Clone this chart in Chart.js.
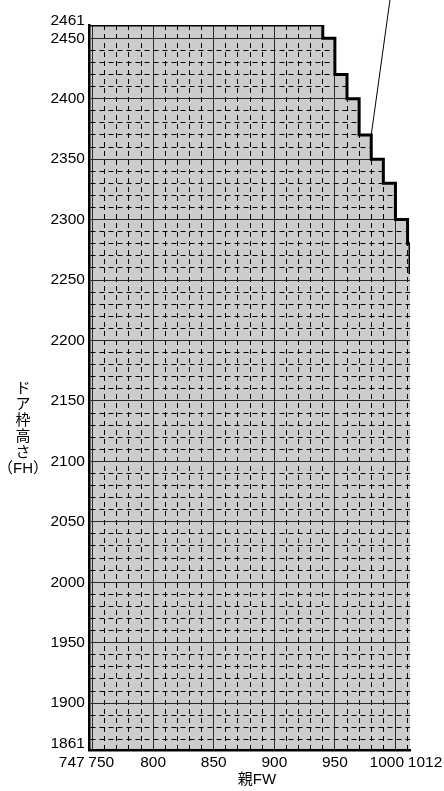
<!DOCTYPE html>
<html><head><meta charset="utf-8">
<script src="https://cdn.jsdelivr.net/npm/chart.js@4"></script>
<style>html,body{margin:0;padding:0;background:#fff}#wrap{position:relative;width:444px;height:791px}</style>
</head><body><div id="wrap"><canvas id="c"></canvas></div>
<script>
// ---- data ----
const xTickLabels = [747, 750, 800, 850, 900, 950, 1000, 1012];
const yTickLabels = [1861, 1900, 1950, 2000, 2050, 2100, 2150, 2200, 2250, 2300, 2350, 2400, 2450, 2461];
const stepFW = [747, 940, 950, 960, 970, 980, 990, 1000, 1010, 1012, 1012];
const stepFH = [2461, 2450, 2420, 2400, 2370, 2350, 2330, 2300, 2280, 2280, 2255];
const calloutFW = [980, 996.6];
const calloutFH = [2370, 2490];
const xTitle = '親FW';
const yTitleLines = ['ド', 'ア', '枠', '高', 'さ', '（FH）'];

// ---- helpers ----
const X_MIN = 747, X_MAX = 1012, Y_MIN = 1861, Y_MAX = 2461, MINOR = 10, MAJOR = 50;
function tickValues(min, max, labels) {
  const s = new Set(labels);
  for (let v = Math.ceil(min / MINOR) * MINOR; v < max - 1.5; v += MINOR) s.add(v);
  return [...s].sort((a, b) => a - b);
}
const xTicks = tickValues(X_MIN, X_MAX, xTickLabels);
const yTicks = tickValues(Y_MIN, Y_MAX, yTickLabels);
// spaces used to nudge crowded end labels apart: [leading, trailing]
const xLabelPad = {747: [0, 8], 750: [4, 0], 1000: [0, 4], 1012: [7, 0]};
// upward nudge (px) of crowded end labels on the y axis
const yLabelLift = {1861: 7, 2461: 4};

const pts = (xs, ys) => xs.map((x, i) => ({x, y: ys[i]}));

function gridColor(min, max) {
  return ctx => {
    const v = ctx.tick ? ctx.tick.value : null;
    if (v === null || v === undefined) return '#000';
    if (v === min || v === max) return 'rgba(0,0,0,0)';
    return v % MAJOR === 0 ? '#2a2a2a' : '#000';
  };
}
const dashFn = ctx => (ctx.tick && ctx.tick.value % MAJOR !== 0) ? [5, 4] : [];

const underGrid = {
  id: 'underGrid',
  beforeDatasetsDraw(chart) { chart.ctx.globalCompositeOperation = 'destination-over'; },
  afterDatasetDraw(chart, args) { if (args.index === 2) chart.ctx.globalCompositeOperation = 'source-over'; }
};
const titles = {
  id: 'titles',
  afterDraw(chart) {
    const ctx = chart.ctx;
    ctx.save();
    ctx.fillStyle = '#000';
    ctx.textAlign = 'center';
    ctx.textBaseline = 'middle';
    ctx.font = "15px 'Liberation Sans', 'Noto Sans CJK JP', sans-serif";
    ctx.fillText(xTitle, 257, 780);
    yTitleLines.forEach((t, i) => ctx.fillText(t, 23, 389 + i * 16));
    ctx.restore();
  }
};

Chart.defaults.font.family = "'Liberation Sans', Arial, sans-serif";
Chart.defaults.font.size = 15.5;
Chart.defaults.color = '#000';

new Chart(document.getElementById('c'), {
  type: 'line',
  data: {
    datasets: [
      { data: pts(calloutFW, calloutFH), borderColor: '#000', borderWidth: 1, pointRadius: 0, fill: false, clip: false },
      { data: pts(stepFW, stepFH), stepped: true, borderColor: '#000', borderWidth: 3, pointRadius: 0, fill: 'end', backgroundColor: '#fff', borderCapStyle: 'butt', borderJoinStyle: 'miter' },
      { data: pts(stepFW, stepFH), stepped: true, borderWidth: 0, pointRadius: 0, fill: 'start', backgroundColor: '#cccccc' }
    ]
  },
  options: {
    responsive: true,
    maintainAspectRatio: false,
    animation: false,
    events: [],
    layout: { padding: { left: 46.5, right: 34, top: 25, bottom: 15.5 } },
    plugins: { legend: { display: false }, tooltip: { enabled: false } },
    scales: {
      x: {
        type: 'linear', min: X_MIN, max: X_MAX,
        afterBuildTicks: s => { s.ticks = xTicks.map(v => ({value: v})); },
        ticks: {
          autoSkip: false, maxRotation: 0, minRotation: 0, padding: 1,
          font: { size: 15.5, lineHeight: 1.5 },
          callback: v => {
            if (!xTickLabels.includes(v)) return '';
            const p = xLabelPad[v] || [0, 0];
            return ' '.repeat(p[0]) + v + ' '.repeat(p[1]);
          }
        },
        grid: { color: gridColor(X_MIN, X_MAX), lineWidth: 1, drawTicks: false },
        border: { color: '#000', width: 2.5, dash: dashFn }
      },
      y: {
        type: 'linear', min: Y_MIN, max: Y_MAX,
        afterBuildTicks: s => { s.ticks = yTicks.map(v => ({value: v})); },
        ticks: {
          autoSkip: false, padding: 4,
          font: ctx => {
            const v = ctx.tick ? ctx.tick.value : null;
            return yLabelLift[v] ? { size: 15.5, lineHeight: (2 * yLabelLift[v]) + 'px' } : { size: 15.5 };
          },
          callback: v => {
            if (!yTickLabels.includes(v)) return '';
            return yLabelLift[v] ? [String(v), ''] : String(v);
          }
        },
        grid: { color: gridColor(Y_MIN, Y_MAX), lineWidth: 1, drawTicks: false },
        border: { color: '#000', width: 2.5, dash: dashFn }
      }
    }
  },
  plugins: [underGrid, titles]
});
</script>
</body></html>
